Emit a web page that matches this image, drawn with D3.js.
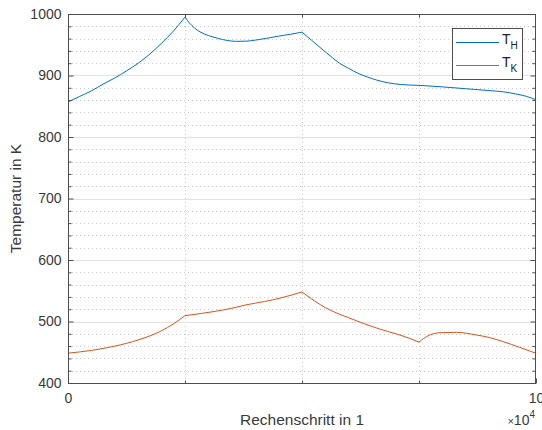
<!DOCTYPE html>
<html><head><meta charset="utf-8">
<script src="https://cdn.jsdelivr.net/npm/d3@7"></script>
<style>body{margin:0;background:#fff}svg{display:block}text{font-family:"Liberation Sans",Arial,sans-serif}</style>
</head><body>
<svg id="c" width="542" height="430"></svg>
<script>
// Data
const stepH = [0,2500,5000,7500,10000,12500,15000,17500,20000,22500,25000,26000,27000,28200,30000,32000,34000,36000,38000,40000,42500,45000,47500,50000,51000,52000,54500,56500,58000,60000,62000,64000,66000,68500,71000,75000,80000,85000,90000,93000,96000,98000,100000];
const tempH = [857,866,875,886,896,907.5,920,935,952.5,972,995,985,977.5,971,965,960.5,957,955.5,955.8,957.5,960.5,964,967,970.5,964,957.5,941.5,929,920,911.5,903.5,897.5,892.5,888,885.5,884,881.5,878.5,875.5,873.5,869.5,866,860.5];
const stepK = [0,5000,10000,15000,20000,22500,25000,26500,31000,35000,38000,42000,45300,48000,50000,52000,54000,56000,60000,63100,66500,70200,73000,75000,76000,77300,79500,83000,87300,90000,93000,96500,100000];
const tempK = [448.5,453,460,470,485,496,509.5,511,516,521.5,527,532.5,538,543.5,548,537,527,518.7,506,497,488,479.7,472.5,466.5,472.5,478,481.8,482.4,478,474,467.2,458,448.3];
const kinkSteps = [25000,50000,75000];
const yTicks = [400,500,600,700,800,900,1000];
const xTicks = [0,100000];
const xTickLabels = ["0","10"];
const xMinor = [25000,50000,75000];
const seriesNames = ["H","K"];

const svg = d3.select("#c");
const L=68, R=536, T=14, B=383;
const x = d3.scaleLinear().domain([0,100000]).range([L,R]);
const y = d3.scaleLinear().domain([400,1000]).range([B,T]);
const yMinor = d3.range(400,1001,20).filter(v=>v%100!==0);

const g = svg.append("g");
// minor grid (dotted)
g.selectAll(".ymg").data(yMinor).enter().append("line")
 .attr("x1",L).attr("x2",R).attr("y1",d=>Math.round(y(d))+0.5).attr("y2",d=>Math.round(y(d))+0.5)
 .attr("stroke","#c8c8c8").attr("stroke-width",1).attr("stroke-dasharray","1,3");
g.selectAll(".xmg").data(xMinor).enter().append("line")
 .attr("y1",T).attr("y2",B).attr("x1",d=>Math.round(x(d))+0.5).attr("x2",d=>Math.round(x(d))+0.5)
 .attr("stroke","#c8c8c8").attr("stroke-width",1).attr("stroke-dasharray","1,3");
// major grid
g.selectAll(".ymj").data(yTicks.slice(1,-1)).enter().append("line")
 .attr("x1",L).attr("x2",R).attr("y1",d=>Math.round(y(d))+0.5).attr("y2",d=>Math.round(y(d))+0.5)
 .attr("stroke","#e2e2e2").attr("stroke-width",1);

// series: smooth within segments, sharp at kinks
function segments(xs, ys){
  const pts = d3.zip(xs, ys); const segs=[]; let cur=[];
  pts.forEach(p=>{cur.push(p); if(kinkSteps.includes(p[0])){segs.push(cur); cur=[p];}});
  if(cur.length>1) segs.push(cur);
  return segs;
}
const line = d3.line().x(d=>x(d[0])).y(d=>y(d[1])).curve(d3.curveMonotoneX);
function drawSeries(xs, ys, col){
  const d = segments(xs, ys).map(s=>line(s)).join("");
  svg.append("path").attr("d",d).attr("fill","none").attr("stroke",col).attr("stroke-width",1).attr("stroke-linejoin","round");
}
drawSeries(stepH, tempH, "#0072BD");
drawSeries(stepK, tempK, "#D95319");

// axes
const axCol="#4d4d4d";
const txtCol="#3a3a3a";
function styleAxis(sel){sel.select(".domain").remove();sel.selectAll("line").attr("stroke",axCol);sel.selectAll("text").attr("fill",txtCol).style("font-size","14px").style("font-family","'Liberation Sans',Arial,sans-serif");}
const ax1 = svg.append("g").attr("transform",`translate(${L+0.5},0)`).call(d3.axisLeft(y).tickValues(yTicks).tickSize(-5).tickPadding(7).tickFormat(d3.format("d")));
styleAxis(ax1);
const ax1m = svg.append("g").attr("transform",`translate(${L+0.5},0)`).call(d3.axisLeft(y).tickValues(yMinor).tickSize(-3).tickFormat(""));
styleAxis(ax1m);
const ax2 = svg.append("g").attr("transform",`translate(${R-0.5},0)`).call(d3.axisRight(y).tickValues(yTicks).tickSize(-5).tickFormat(""));
styleAxis(ax2);
const ax2m = svg.append("g").attr("transform",`translate(${R-0.5},0)`).call(d3.axisRight(y).tickValues(yMinor).tickSize(-3).tickFormat(""));
styleAxis(ax2m);
const ax3 = svg.append("g").attr("transform",`translate(0,${B+0.5})`).call(d3.axisBottom(x).tickValues(xTicks).tickSize(-5).tickPadding(10).tickFormat((d,i)=>xTickLabels[i]));
styleAxis(ax3);
const ax3m = svg.append("g").attr("transform",`translate(0,${B+0.5})`).call(d3.axisBottom(x).tickValues(xMinor).tickSize(-3).tickFormat(""));
styleAxis(ax3m);
const ax4m = svg.append("g").attr("transform",`translate(0,${T+0.5})`).call(d3.axisTop(x).tickValues(xMinor).tickSize(-3).tickFormat(""));
styleAxis(ax4m);
// box
svg.append("rect").attr("x",L+0.5).attr("y",T+0.5).attr("width",R-L-1).attr("height",B-T).attr("fill","none").attr("stroke",axCol).attr("stroke-width",1);

// exponent
const ex = svg.append("text").attr("x",535).attr("y",425).attr("text-anchor","end").attr("fill",txtCol).style("font-size","14px");
ex.append("tspan").style("font-size","11px").text("\u00d7");
ex.append("tspan").text("10");
ex.append("tspan").attr("dy",-7).style("font-size","10px").text("4");

// axis labels
svg.append("text").attr("x",(L+R)/2).attr("y",425).attr("text-anchor","middle").attr("fill",txtCol).style("font-size","15.5px").text("Rechenschritt in 1");
svg.append("text").attr("transform",`translate(21,${(T+B)/2}) rotate(-90)`).attr("text-anchor","middle").attr("fill",txtCol).style("font-size","15.5px").text("Temperatur in K");

// legend
const lg = svg.append("g");
lg.append("rect").attr("x",452.5).attr("y",28.5).attr("width",70).attr("height",51).attr("fill","#fff").attr("stroke",axCol).attr("stroke-width",1);
const cols=["#0072BD","#D95319"];
seriesNames.forEach((n,i)=>{
  const yy = 42.5 + i*23;
  lg.append("line").attr("x1",456).attr("x2",499).attr("y1",yy).attr("y2",yy).attr("stroke",cols[i]).attr("stroke-width",1);
  const t = lg.append("text").attr("x",502).attr("y",yy+1).attr("fill","#222").style("font-size","14px");
  t.append("tspan").text("T");
  t.append("tspan").attr("dy",5).style("font-size","10px").text(n);
});
</script>
</body></html>
